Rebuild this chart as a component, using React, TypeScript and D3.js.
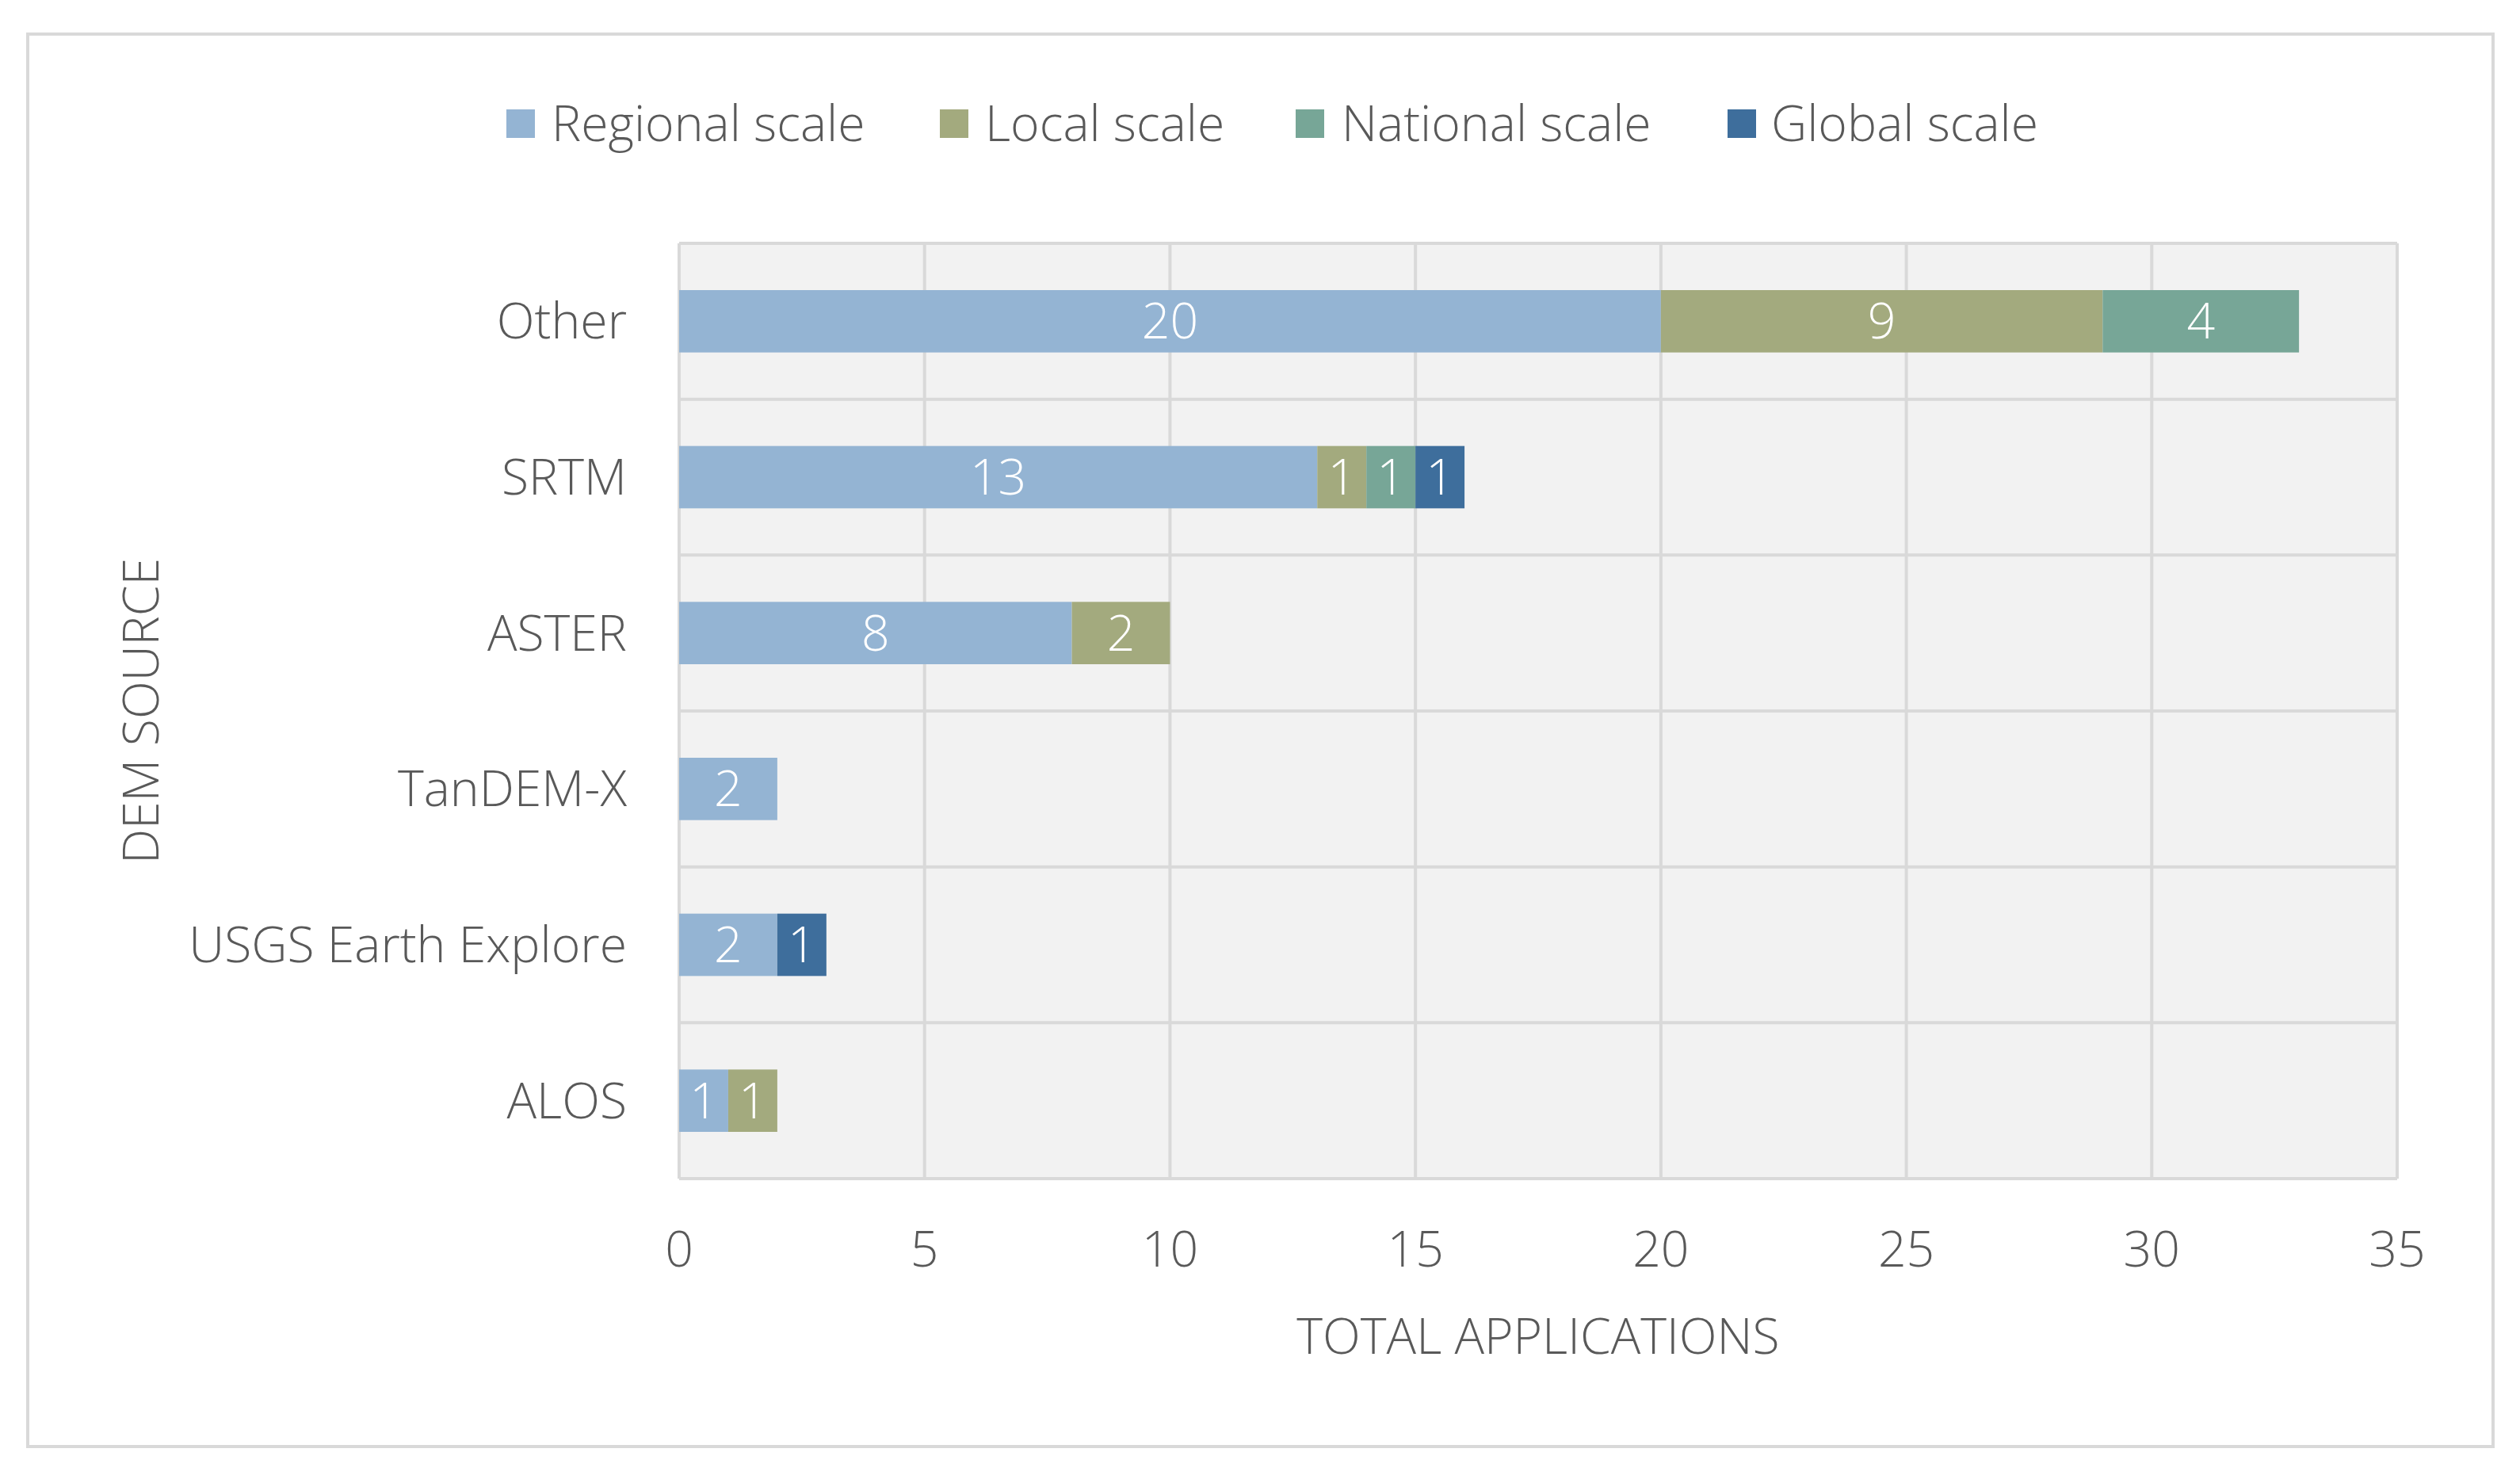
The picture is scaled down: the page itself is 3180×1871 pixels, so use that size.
import React from "react";
import * as d3 from "d3";

const categories = ["Other", "SRTM", "ASTER", "TanDEM-X", "USGS Earth Explore", "ALOS"];
const seriesNames = ["Regional scale", "Local scale", "National scale", "Global scale"];
const regional = [20, 13, 8, 2, 2, 1];
const local = [9, 1, 2, 0, 0, 1];
const national = [4, 1, 0, 0, 0, 0];
const global = [0, 1, 0, 0, 1, 0];
const colors = ["#94b4d3", "#a3aa7e", "#77a697", "#3e6e9c"];
const xTicks = [0, 5, 10, 15, 20, 25, 30, 35];

const W = 3180;
const H = 1871;
const FONT = "'Open Sans', 'Segoe UI', sans-serif";
const TEXT = "#595959";
const GRID = "#d9d9d9";
const FS = 62.5;

export default function App() {
  const plot = { left: 857, right: 3025, top: 307, bottom: 1487 };
  const x = d3.scaleLinear().domain([0, 35]).range([plot.left, plot.right]);
  const y = d3
    .scaleBand<string>()
    .domain(categories)
    .range([plot.top, plot.bottom])
    .paddingInner(0.6)
    .paddingOuter(0.3);
  const band = d3.scaleBand<string>().domain(categories).range([plot.top, plot.bottom]);

  const rows = categories.map((c, i) => ({
    cat: c,
    regional: regional[i],
    local: local[i],
    national: national[i],
    global: global[i],
  }));
  const keys = ["regional", "local", "national", "global"];
  const stacked = d3.stack<any>().keys(keys)(rows);

  const legendItems = [
    { sq: 639, tx: 696 },
    { sq: 1186, tx: 1243 },
    { sq: 1635, tx: 1693 },
    { sq: 2180, tx: 2235 },
  ];

  return (
    <svg
      width={W}
      height={H}
      style={{ position: "absolute", left: 0, top: 0, display: "block", background: "#fff" }}
      fontFamily={FONT}
    >
      <rect x={35} y={43} width={3111} height={1782} fill="#fff" stroke={GRID} strokeWidth={4} />

      {/* legend */}
      {seriesNames.map((s, i) => (
        <g key={s}>
          <rect x={legendItems[i].sq} y={138} width={36} height={36} fill={colors[i]} />
          <text x={legendItems[i].tx} y={156} dy="0.35em" fontSize={FS} fill={TEXT} fontWeight={300}>
            {s}
          </text>
        </g>
      ))}

      {/* plot area */}
      <rect
        x={plot.left}
        y={plot.top}
        width={plot.right - plot.left}
        height={plot.bottom - plot.top}
        fill="#f2f2f2"
      />
      {xTicks.map((t) => (
        <line key={"v" + t} x1={x(t)} x2={x(t)} y1={plot.top} y2={plot.bottom} stroke={GRID} strokeWidth={4} />
      ))}
      {categories.map((c) => (
        <line
          key={"h" + c}
          x1={plot.left}
          x2={plot.right}
          y1={band(c)!}
          y2={band(c)!}
          stroke={GRID}
          strokeWidth={4}
        />
      ))}
      <line x1={plot.left} x2={plot.right} y1={plot.bottom} y2={plot.bottom} stroke={GRID} strokeWidth={4} />

      {/* bars */}
      {stacked.map((layer, li) => (
        <g key={layer.key}>
          {layer.map((d: any, i: number) => {
            const v = d[1] - d[0];
            if (v <= 0) return null;
            const x0 = x(d[0]);
            const x1 = x(d[1]);
            const yy = y(d.data.cat)!;
            return (
              <g key={i}>
                <rect x={x0} y={yy} width={x1 - x0} height={y.bandwidth()} fill={colors[li]} />
                <text
                  x={(x0 + x1) / 2}
                  y={yy + y.bandwidth() / 2}
                  dy="0.35em"
                  textAnchor="middle"
                  fontSize={FS}
                  fill="#fff"
                  fontWeight={300}
                >
                  {v}
                </text>
              </g>
            );
          })}
        </g>
      ))}

      {/* category labels */}
      {categories.map((c) => (
        <text
          key={"c" + c}
          x={791}
          y={band(c)! + band.bandwidth() / 2}
          dy="0.35em"
          textAnchor="end"
          fontSize={FS}
          fill={TEXT}
          fontWeight={300}
        >
          {c}
        </text>
      ))}

      {/* x tick labels */}
      {xTicks.map((t) => (
        <text
          key={"t" + t}
          x={x(t)}
          y={1576}
          dy="0.35em"
          textAnchor="middle"
          fontSize={FS}
          fill={TEXT}
          fontWeight={300}
        >
          {t}
        </text>
      ))}

      {/* axis titles */}
      <text x={(plot.left + plot.right) / 2} y={1686} dy="0.35em" textAnchor="middle" fontSize={FS} fill={TEXT} fontWeight={300}>
        TOTAL APPLICATIONS
      </text>
      <text
        transform={`translate(178, ${(plot.top + plot.bottom) / 2}) rotate(-90)`}
        dy="0.35em"
        textAnchor="middle"
        fontSize={FS}
        fill={TEXT}
        fontWeight={300}
      >
        DEM SOURCE
      </text>
    </svg>
  );
}
